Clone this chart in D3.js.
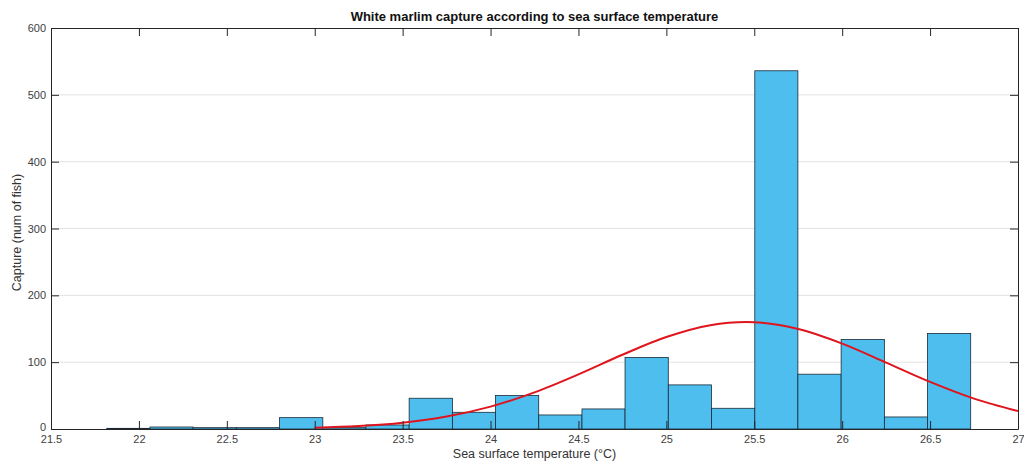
<!DOCTYPE html>
<html>
<head>
<meta charset="utf-8">
<script src="https://cdn.jsdelivr.net/npm/d3@7"></script>
<style>
  html, body { margin: 0; padding: 0; background: #fff; }
  svg { display: block; font-family: "Liberation Sans", Arial, Helvetica, sans-serif; }
</style>
</head>
<body>
<svg id="chart" width="1024" height="464"></svg>
<script>
// ---- data ----
const title = "White marlim capture according to sea surface temperature";
const xLabel = "Sea surface temperature (\u00B0C)";
const yLabel = "Capture (num of fish)";

const binEdges = [21.817, 22.063, 22.308, 22.554, 22.800, 23.046, 23.291, 23.537, 23.783, 24.028,
                  24.274, 24.520, 24.765, 25.011, 25.257, 25.503, 25.748, 25.994, 26.240, 26.485, 26.731];
const counts = [1, 3, 2, 2, 17, 2, 6, 46, 25, 50, 21, 30, 107, 66, 31, 536, 82, 134, 18, 143];

const fitX = [23, 23.25, 23.5, 23.75, 24, 24.25, 24.5, 24.75, 25, 25.25, 25.5, 25.75, 26, 26.25, 26.5, 26.75, 27];
const fitY = [1.8, 4.4, 9.5, 18.7, 33.5, 54.8, 81.8, 111.1, 137.6, 155.3, 159.7, 149.6, 127.8, 99.4, 70.5, 45.5, 26.8];

const xTicks = [21.5, 22, 22.5, 23, 23.5, 24, 24.5, 25, 25.5, 26, 26.5, 27];
const yTicks = [0, 100, 200, 300, 400, 500, 600];

// ---- layout ----
const L = 51, R = 1018, T = 28, B = 429;
const svg = d3.select("#chart");
const x = d3.scaleLinear().domain([21.5, 27]).range([L, R]);
const y = d3.scaleLinear().domain([0, 600]).range([B, T]);

// gridlines (horizontal)
svg.append("g").selectAll("line").data(yTicks.filter(d => d > 0 && d < 600)).join("line")
  .attr("x1", L).attr("x2", R)
  .attr("y1", d => y(d)).attr("y2", d => y(d))
  .attr("stroke", "#e3e3e3").attr("stroke-width", 1);

// bars
const bins = counts.map((c, i) => ({ x0: binEdges[i], x1: binEdges[i + 1], c }));
svg.append("g").selectAll("rect").data(bins).join("rect")
  .attr("x", d => x(d.x0))
  .attr("width", d => x(d.x1) - x(d.x0))
  .attr("y", d => y(d.c))
  .attr("height", d => y(0) - y(d.c))
  .attr("fill", "#4DBEEE")
  .attr("stroke", "#1a2a38")
  .attr("stroke-width", 0.8);

// fitted curve
svg.append("defs").append("clipPath").attr("id", "clip")
  .append("rect").attr("x", L).attr("y", T).attr("width", R - L).attr("height", B - T);
const pts = fitX.map((v, i) => [v, fitY[i]]);
svg.append("path").datum(pts)
  .attr("clip-path", "url(#clip)")
  .attr("fill", "none")
  .attr("stroke", "#e0141c")
  .attr("stroke-width", 2)
  .attr("d", d3.line().x(d => x(d[0])).y(d => y(d[1])).curve(d3.curveCatmullRom));

// axes (box with inward ticks)
const tickLen = 8;
const axisColor = "#262626";
const fontSize = 11;

const xAxisB = d3.axisBottom(x).tickValues(xTicks).tickSizeInner(-tickLen).tickSizeOuter(0).tickPadding(6)
  .tickFormat(d3.format("~g"));
const gxB = svg.append("g").attr("transform", `translate(0,${B})`).call(xAxisB);
const xAxisT = d3.axisTop(x).tickValues(xTicks).tickSizeInner(-tickLen).tickSizeOuter(0).tickFormat("");
const gxT = svg.append("g").attr("transform", `translate(0,${T})`).call(xAxisT);
const yAxisL = d3.axisLeft(y).tickValues(yTicks).tickSizeInner(-tickLen).tickSizeOuter(0).tickPadding(5);
const gyL = svg.append("g").attr("transform", `translate(${L},0)`).call(yAxisL);
const yAxisR = d3.axisRight(y).tickValues(yTicks).tickSizeInner(-tickLen).tickSizeOuter(0).tickFormat("");
const gyR = svg.append("g").attr("transform", `translate(${R},0)`).call(yAxisR);

[gxB, gxT, gyL, gyR].forEach(g => {
  g.select(".domain").attr("stroke", axisColor).attr("stroke-width", 1);
  g.selectAll(".tick line").attr("stroke", axisColor).attr("stroke-width", 1);
  g.selectAll("text").attr("fill", "#404040").attr("font-size", fontSize)
    .attr("font-family", "Liberation Sans, Arial, sans-serif");
});
gxB.selectAll(".tick text").attr("dy", "0.71em").attr("y", 6);
gyL.selectAll(".tick text").filter(d => d === 0).attr("dy", "0.1em");

// titles
svg.append("text").attr("x", (L + R) / 2).attr("y", 21)
  .attr("text-anchor", "middle").attr("font-size", 13).attr("font-weight", "bold")
  .attr("fill", "#111").text(title);
svg.append("text").attr("x", (L + R) / 2).attr("y", 458)
  .attr("text-anchor", "middle").attr("font-size", 12.5)
  .attr("fill", "#333").text(xLabel);
svg.append("text").attr("transform", `translate(21,${(T + B) / 2 + 4}) rotate(-90)`)
  .attr("text-anchor", "middle").attr("font-size", 12.5)
  .attr("fill", "#333").text(yLabel);
</script>
</body>
</html>
